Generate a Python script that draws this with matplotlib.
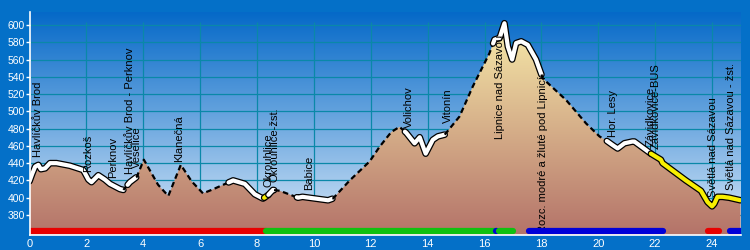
import numpy as np
import matplotlib
matplotlib.use('Agg')
import matplotlib.pyplot as plt
import matplotlib.patheffects as pe

# elevation profile (km, m a.s.l.)
km = [0.0, 0.1, 0.2, 0.31, 0.4, 0.55, 0.72, 0.95, 1.42, 1.89, 2.07, 2.18,
      2.42, 2.65, 2.83, 3.18, 3.3, 3.53, 3.77, 4.02, 4.52, 4.88, 5.32, 5.7,
      6.1, 6.4, 7.16, 7.57, 7.92, 8.21, 8.39, 8.56, 8.8, 9.44, 9.6, 10.5,
      10.67, 11.26, 11.96, 12.31, 12.72, 13.01, 13.25, 13.54, 13.72, 13.93,
      14.18, 14.36, 14.6, 15.12, 15.59, 16.17, 16.35, 16.53, 16.7, 16.82,
      16.97, 17.11, 17.29, 17.52, 17.81, 18.05, 18.87, 19.57, 20.04, 20.33,
      20.5, 20.68, 20.92, 21.2, 21.27, 21.85, 22.2, 22.26, 23.08, 23.61,
      23.84, 24.0, 24.08, 24.19, 24.37, 24.6, 25.0]
elev = [419, 428, 436, 438, 433, 434, 440, 440, 437, 432, 421, 418,
        426, 421, 416, 410, 409, 418, 424, 444, 415, 402, 438, 419,
        405, 409, 420, 416, 404, 399, 403, 409, 408, 400, 401, 397,
        399, 420, 442, 459, 476, 482, 475, 463, 470, 451,
        467, 471, 473, 494, 529, 567, 583, 585, 602, 575,
        560, 579, 581, 577, 560, 538, 513, 486, 471, 465,
        461, 457, 463, 465, 465, 451, 444, 440, 420, 408,
        395, 390, 393, 401, 401, 400, 397]

# surface type of each stretch: w = road, d = path, y = marked trail
seg_start = [0.0, 3.3, 3.45, 3.75, 7.0, 8.25, 8.4, 8.6, 9.4, 10.65, 13.2, 14.6, 16.3, 18.0, 20.3, 21.85]
seg_end = [3.3, 3.45, 3.75, 7.0, 8.25, 8.4, 8.6, 9.4, 10.65, 13.2, 14.6, 16.3, 18.0, 20.3, 21.85, 25.0]
seg_type = ['w', 'd', 'w', 'd', 'w', 'y', 'w', 'd', 'w', 'd', 'w', 'd', 'w', 'd', 'w', 'y']

# marked route colour bars
bar_start = [0.0, 8.33, 16.4, 16.5, 17.58, 23.84, 24.63]
bar_end = [8.33, 16.4, 16.45, 17.0, 22.26, 24.23, 25.0]
bar_color = ['#e80000', '#10c010', '#0000d8', '#10c010', '#0000d8', '#e80000', '#0000d8']

# stations
names = ['Havlíčkův Brod', 'Rozkoš', 'Perknov', 'Havlíčkův Brod - Perknov', 'Veselice',
         'Klanečná', 'Okrouhlice', 'Okrouhlice-žst.', 'Babice', 'Volichov', 'Vitonín',
         'Lipnice nad Sázavou', 'Rozc. modré a žluté pod Lipnicí', 'Hor. Lesy',
         'Závidkovice', 'Závidkovice-BUS', 'Světlá nad Sázavou', 'Světlá nad Sázavou - žst.']
name_km = [0.29, 2.07, 2.94, 3.53, 3.79, 5.25, 8.39, 8.62, 9.83, 13.34, 14.71,
           16.53, 18.05, 20.5, 21.85, 22.03, 24.04, 24.66]

km = np.array(km)
elev = np.array(elev, dtype=float)

plt.rcParams['font.family'] = ['Liberation Sans', 'DejaVu Sans']

fig = plt.figure(figsize=(7.5, 2.5), dpi=100, facecolor='#0470c8')
ax = fig.add_axes([29.5 / 750, 15 / 250, 711 / 750, 223 / 250])
ymin, ymax = 356.8, 615.0
ax.set_xlim(0, 25)
ax.set_ylim(ymin, ymax)

# sky gradient
sky = np.array([[5, 105, 200], [215, 232, 248]]) / 255.0
t = np.linspace(0, 1, 256)[:, None]
sky_img = (sky[0] * (1 - t) + sky[1] * t)[:, None, :]
ax.imshow(sky_img, extent=[0, 25, ymin, ymax], aspect='auto', origin='upper', zorder=0)

# grid
ax.hlines(np.arange(380, 601, 20), 0, 25, color='#0a88a8', lw=0.9, zorder=1)
ax.vlines(np.arange(2, 25, 2), ymin, 604, color='#0a88a8', lw=0.9, zorder=1)

# terrain fill with gradient
poly = ax.fill_between(km, elev, ymin, facecolor='none', edgecolor='none', zorder=2)
ground = np.array([[248, 236, 170], [180, 115, 105]]) / 255.0
gt = np.linspace(0, 1, 256)[:, None]
g_img = (ground[0] * (1 - gt) + ground[1] * gt)[:, None, :]
im = ax.imshow(g_img, extent=[0, 25, ymin, 605], aspect='auto', origin='upper', zorder=2)
im.set_clip_path(poly.get_paths()[0], ax.transData)


def piece(a, b):
    m = (km > a) & (km < b)
    xs = np.concatenate([[a], km[m], [b]])
    return xs, np.interp(xs, km, elev)


for a, b, s in zip(seg_start, seg_end, seg_type):
    xs, ys = piece(a, b)
    if s == 'd':
        ax.plot(xs, ys, color='black', lw=1.6, ls=(0, (2.5, 1.6)), zorder=3)
    else:
        col = 'white' if s == 'w' else '#f8f000'
        ax.plot(xs, ys, color=col, lw=3.0, solid_capstyle='round', zorder=3,
                path_effects=[pe.Stroke(linewidth=4.8, foreground='black'), pe.Normal()])

# route colour bars
bar_y = 361.5
for a, b, c in zip(bar_start, bar_end, bar_color):
    ax.plot([a, b], [bar_y, bar_y], color=c, lw=4.5, solid_capstyle='round', zorder=5)

# station labels
for n, x in zip(names, name_km):
    e = np.interp(x, km, elev)
    if e > 530:
        ax.text(x, e + 3, n, rotation=90, ha='center', va='top', fontsize=8, zorder=4)
    else:
        ax.text(x, e + 9, n, rotation=90, ha='center', va='bottom', fontsize=8, zorder=4)

ax.set_xticks(np.arange(0, 25, 2))
ax.set_yticks(np.arange(380, 601, 20))
ax.tick_params(axis='y', colors='white', labelsize=7.5, length=3, width=1, pad=0.5)
ax.tick_params(axis='x', colors='white', labelsize=8, length=0, pad=3)
for side in ['top', 'right']:
    ax.spines[side].set_visible(False)
for side in ['left', 'bottom']:
    ax.spines[side].set_color('white')
    ax.spines[side].set_linewidth(1.2)
    ax.spines[side].set_zorder(6)

fig.savefig('out.png', dpi=100, facecolor=fig.get_facecolor())
